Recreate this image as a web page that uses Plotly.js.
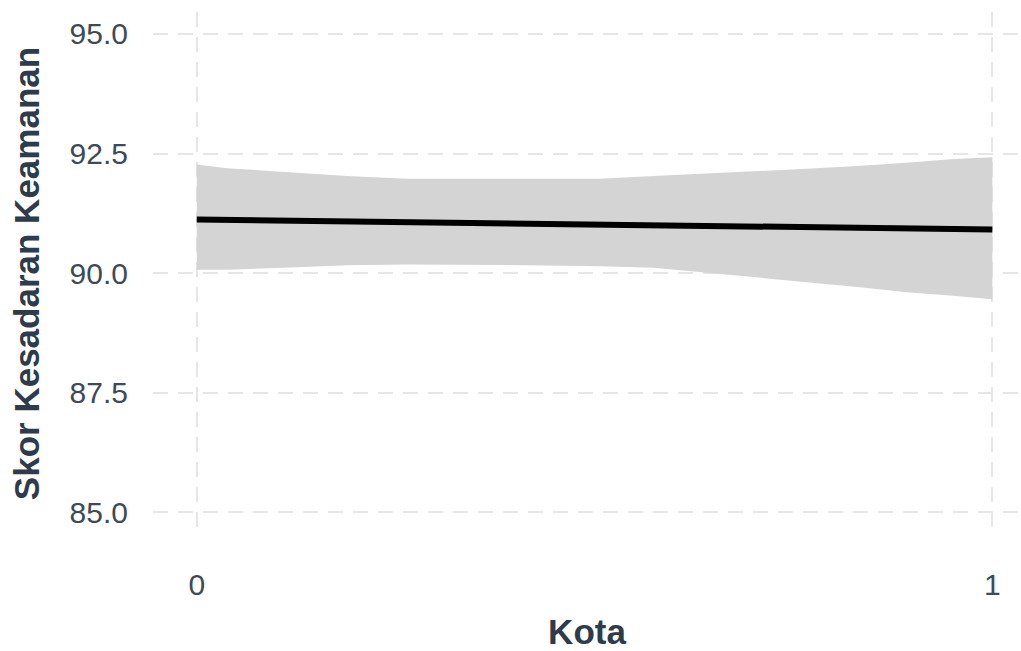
<!DOCTYPE html>
<html>
<head>
<meta charset="utf-8">
<script src="https://cdn.plot.ly/plotly-3.0.1.min.js"></script>
<style>
  html, body { margin: 0; padding: 0; background: #ffffff; }
  #chart { width: 1021px; height: 651px; }
</style>
</head>
<body>
<div id="chart"></div>
<script>
// Linear fit of awareness score against Kota (0/1) with its confidence band
const bandX     = [0, 0.038, 0.126, 0.189, 0.264, 0.39, 0.507, 0.574, 0.645, 0.704, 0.767, 0.830, 0.896, 0.947, 1];
const bandUpper = [92.27, 92.19, 92.10, 92.03, 91.97, 91.97, 91.97, 92.03, 92.08, 92.13, 92.18, 92.24, 92.31, 92.38, 92.42];
const bandLower = [90.07, 90.07, 90.12, 90.16, 90.18, 90.17, 90.14, 90.11, 90.00, 89.91, 89.81, 89.71, 89.59, 89.53, 89.45];
const fitX      = [0, 1];
const fitY      = [91.12, 90.91];
const xTicks    = [0, 1];
const xTickText = ['0', '1'];
const yTicks    = [85, 87.5, 90, 92.5, 95];
const yTickText = ['85.0', '87.5', '90.0', '92.5', '95.0'];

const textColor = '#404a57';
const titleColor = '#2e3b4b';
const gridColor = '#e6e6e6';

const traces = [
  {
    x: bandX, y: bandLower, type: 'scatter', mode: 'lines',
    line: { width: 0, color: 'rgba(0,0,0,0)' }, hoverinfo: 'skip', showlegend: false
  },
  {
    x: bandX, y: bandUpper, type: 'scatter', mode: 'lines',
    fill: 'tonexty', fillcolor: '#d4d4d4',
    line: { width: 0, color: 'rgba(0,0,0,0)' }, hoverinfo: 'skip', showlegend: false
  },
  {
    x: fitX, y: fitY, type: 'scatter', mode: 'lines',
    line: { color: '#000000', width: 6 }, showlegend: false
  }
];

const layout = {
  width: 1021, height: 651,
  paper_bgcolor: '#ffffff', plot_bgcolor: '#ffffff',
  margin: { l: 153, r: 0, t: 12, b: 116 },
  font: { family: 'Liberation Sans, Arial, sans-serif', color: textColor },
  xaxis: {
    range: [-0.055, 1.036],
    tickvals: xTicks, ticktext: xTickText,
    tickfont: { size: 30, color: textColor },
    ticklabelstandoff: 29,
    showgrid: true, gridcolor: gridColor, gridwidth: 2, griddash: '15px,10px',
    zeroline: false, showline: false, ticks: '',
    title: { text: 'Kota', font: { size: 35, color: titleColor, weight: 'bold' }, standoff: 20 }
  },
  yaxis: {
    range: [84.52, 95.46],
    tickvals: yTicks, ticktext: yTickText,
    tickfont: { size: 30, color: textColor },
    ticklabelstandoff: 24,
    showgrid: true, gridcolor: gridColor, gridwidth: 2, griddash: '15px,10px',
    zeroline: false, showline: false, ticks: '',
    title: { text: 'Skor Kesadaran Keamanan', font: { size: 35, color: titleColor, weight: 'bold' }, standoff: 19 }
  }
};

Plotly.newPlot('chart', traces, layout, { displayModeBar: false, staticPlot: true });
</script>
</body>
</html>
